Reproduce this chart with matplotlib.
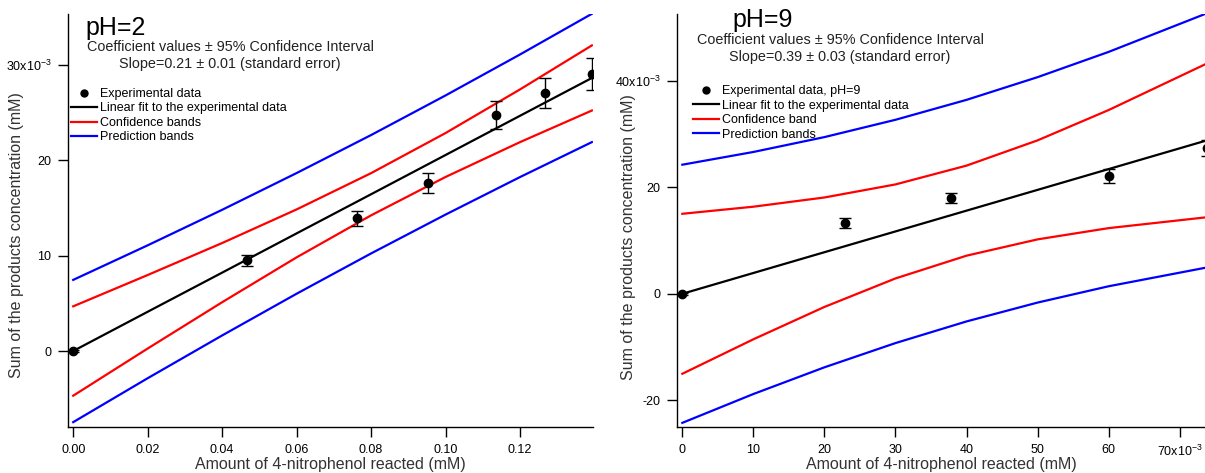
import matplotlib
matplotlib.use("Agg")
import matplotlib.pyplot as plt
from matplotlib.lines import Line2D

plt.rcParams['font.family'] = ['Liberation Sans', 'DejaVu Sans']
plt.rcParams['mathtext.fontset'] = 'custom'
plt.rcParams['mathtext.rm'] = 'Liberation Sans'
plt.rcParams['mathtext.it'] = 'Liberation Sans:italic'
plt.rcParams['mathtext.bf'] = 'Liberation Sans:bold'

# ---------------- pH = 2 panel (y in 1e-3 mM) ----------------
ph2_x = [0.0, 0.0466, 0.0761, 0.0954, 0.1136, 0.1267, 0.1393]
ph2_y = [0.0, 9.5, 13.9, 17.6, 24.7, 27.0, 29.0]
ph2_err = [0.1, 0.6, 0.8, 1.05, 1.45, 1.55, 1.7]

ph2_band_x = [0.0, 0.02, 0.04, 0.06, 0.08, 0.10, 0.12, 0.1393]
ph2_fit = [0.0, 4.11, 8.21, 12.32, 16.42, 20.53, 24.64, 28.60]
ph2_conf_hi = [4.68, 7.96, 11.31, 14.83, 18.63, 22.83, 27.40, 32.01]
ph2_conf_lo = [-4.68, 0.26, 5.11, 9.81, 14.21, 18.23, 21.88, 25.19]
ph2_pred_hi = [7.45, 11.07, 14.79, 18.64, 22.62, 26.77, 31.06, 35.32]
ph2_pred_lo = [-7.45, -2.85, 1.63, 6.00, 10.22, 14.29, 18.22, 21.88]

ph2_xticks = [0.00, 0.02, 0.04, 0.06, 0.08, 0.10, 0.12]
ph2_xticklabels = ["0.00", "0.02", "0.04", "0.06", "0.08", "0.10", "0.12"]
ph2_yticks = [0, 10, 20, 30]
ph2_yticklabels = ["0", "10", "20", "30x10$^{-3}$"]

# ---------------- pH = 9 panel (x and y in 1e-3 mM) ----------------
ph9_x = [0.0, 22.9, 37.8, 60.1, 73.9]
ph9_y = [0.0, 13.3, 18.0, 22.1, 27.4]
ph9_err = [0.2, 0.9, 0.9, 1.4, 1.5]

ph9_band_x = [0, 10, 20, 30, 40, 50, 60, 73.6]
ph9_fit = [0.0, 3.9, 7.8, 11.7, 15.6, 19.5, 23.4, 28.70]
ph9_conf_hi = [15.01, 16.34, 18.07, 20.52, 24.05, 28.79, 34.48, 43.07]
ph9_conf_lo = [-15.01, -8.54, -2.47, 2.88, 7.15, 10.21, 12.32, 14.33]
ph9_pred_hi = [24.22, 26.61, 29.40, 32.65, 36.39, 40.65, 45.39, 52.52]
ph9_pred_lo = [-24.22, -18.81, -13.80, -9.25, -5.19, -1.65, 1.41, 4.88]

ph9_xticks = [0, 10, 20, 30, 40, 50, 60, 70]
ph9_xticklabels = ["0", "10", "20", "30", "40", "50", "60", "70x10$^{-3}$"]
ph9_yticks = [-20, 0, 20, 40]
ph9_yticklabels = ["-20", "0", "20", "40x10$^{-3}$"]

W, H = 1205, 473
fig = plt.figure(figsize=(W / 100, H / 100), dpi=100)


def px_axes(l, r, t, b):
    return fig.add_axes([l / W, 1 - b / H, (r - l) / W, (b - t) / H])


def style(ax):
    for s in ("top", "right"):
        ax.spines[s].set_visible(False)
    for s in ("left", "bottom"):
        ax.spines[s].set_linewidth(1.0)
    ax.tick_params(direction="out", length=7, width=1.0, labelsize=9, colors="black", pad=5)


xlabel = "Amount of 4-nitrophenol reacted (mM)"
ylabel = "Sum of the products concentration (mM)"
txtc = "#222222"

# Left panel
ax1 = px_axes(68, 593, 14, 427)
style(ax1)
ax1.plot(ph2_band_x, ph2_pred_hi, color="#0000ff", lw=1.6)
ax1.plot(ph2_band_x, ph2_pred_lo, color="#0000ff", lw=1.6)
ax1.plot(ph2_band_x, ph2_conf_hi, color="#ff0000", lw=1.6)
ax1.plot(ph2_band_x, ph2_conf_lo, color="#ff0000", lw=1.6)
ax1.plot(ph2_band_x, ph2_fit, color="black", lw=1.6)
ax1.errorbar(ph2_x, ph2_y, yerr=ph2_err, fmt="o", color="black", ms=6,
             elinewidth=1.0, capsize=4, capthick=1.0, zorder=5)
ax1.set_xlim(-0.0014, 0.1396)
ax1.set_ylim(-7.96, 35.3)
ax1.set_xticks(ph2_xticks)
ax1.set_xticklabels(ph2_xticklabels)
ax1.set_yticks(ph2_yticks)
ax1.set_yticklabels(ph2_yticklabels)
ax1.set_xlabel(xlabel, fontsize=11.5, color="#333333", va="center")
ax1.set_ylabel(ylabel, fontsize=11.5, color="#333333", va="center")
ax1.xaxis.set_label_coords(0.5, (427 - 464) / 413)
ax1.yaxis.set_label_coords((17 - 68) / 525, (427 - 235) / 413)

fig.text(85 / W, 1 - 28 / H, "pH=2", fontsize=18, va="center", ha="left")
fig.text(230 / W, 1 - 47 / H, "Coefficient values \u00b1 95% Confidence Interval",
         fontsize=10.4, ha="center", va="center", color=txtc)
fig.text(230 / W, 1 - 64 / H, "Slope=0.21 \u00b1 0.01 (standard error)",
         fontsize=10.4, ha="center", va="center", color=txtc)

handles1 = [
    Line2D([], [], marker="o", ls="none", color="black", ms=5),
    Line2D([], [], color="black", lw=1.6),
    Line2D([], [], color="#ff0000", lw=1.6),
    Line2D([], [], color="#0000ff", lw=1.6),
]
labels1 = ["Experimental data", "Linear fit to the experimental data",
           "Confidence bands", "Prediction bands"]
ax1.legend(handles1, labels1, loc="upper left", bbox_to_anchor=(71 / W, 1 - 88 / H),
           bbox_transform=fig.transFigure, frameon=False, fontsize=9,
           handlelength=2.1, handletextpad=0.25, labelspacing=0.2, borderpad=0,
           borderaxespad=0)

# Right panel
ax2 = px_axes(677, 1206, 14, 427)
style(ax2)
ax2.plot(ph9_band_x, ph9_pred_hi, color="#0000ff", lw=1.6)
ax2.plot(ph9_band_x, ph9_pred_lo, color="#0000ff", lw=1.6)
ax2.plot(ph9_band_x, ph9_conf_hi, color="#ff0000", lw=1.6)
ax2.plot(ph9_band_x, ph9_conf_lo, color="#ff0000", lw=1.6)
ax2.plot(ph9_band_x, ph9_fit, color="black", lw=1.6)
ax2.errorbar(ph9_x, ph9_y, yerr=ph9_err, fmt="o", color="black", ms=6,
             elinewidth=1.0, capsize=4, capthick=1.0, zorder=5)
ax2.set_xlim(-0.75, 73.7)
ax2.set_ylim(-25.0, 52.5)
ax2.set_xticks(ph9_xticks)
ax2.set_xticklabels(ph9_xticklabels)
ax2.set_yticks(ph9_yticks)
ax2.set_yticklabels(ph9_yticklabels)
ax2.set_xlabel(xlabel, fontsize=11.5, color="#333333", va="center")
ax2.set_ylabel(ylabel, fontsize=11.5, color="#333333", va="center")
ax2.xaxis.set_label_coords(0.5, (427 - 464) / 413)
ax2.yaxis.set_label_coords((628 - 677) / 529, (427 - 237) / 413)

fig.text(732 / W, 1 - 20 / H, "pH=9", fontsize=18, va="center", ha="left")
fig.text(840 / W, 1 - 40 / H, "Coefficient values \u00b1 95% Confidence Interval",
         fontsize=10.4, ha="center", va="center", color=txtc)
fig.text(840 / W, 1 - 57 / H, "Slope=0.39 \u00b1 0.03 (standard error)",
         fontsize=10.4, ha="center", va="center", color=txtc)

labels2 = ["Experimental data, pH=9", "Linear fit to the experimental data",
           "Confidence band", "Prediction bands"]
ax2.legend(handles1, labels2, loc="upper left", bbox_to_anchor=(693 / W, 1 - 85 / H),
           bbox_transform=fig.transFigure, frameon=False, fontsize=9,
           handlelength=2.1, handletextpad=0.25, labelspacing=0.2, borderpad=0,
           borderaxespad=0)

fig.savefig("out.png", dpi=100)
